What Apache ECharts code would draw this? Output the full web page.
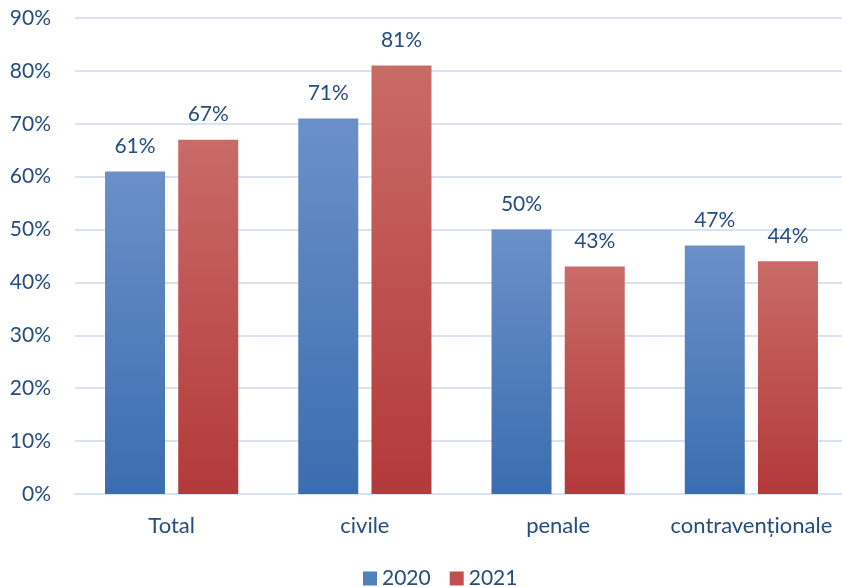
<!DOCTYPE html>
<html>
<head>
<meta charset="utf-8">
<script src="https://cdn.jsdelivr.net/npm/echarts@6/dist/echarts.min.js"></script>
<style>html,body{margin:0;padding:0;background:#fff}#c{width:842px;height:587px}</style>
</head>
<body>
<div id="c"></div>
<script>
const categories = ['Total', 'civile', 'penale', 'contravenționale'];
const seriesNames = ['2020', '2021'];
const values2020 = [61, 71, 50, 47];
const values2021 = [67, 81, 43, 44];
const yTicks = [0, 10, 20, 30, 40, 50, 60, 70, 80, 90];

const txt = '#264D7F';
const font = 'Lato';
function grad(top, bottom) {
  return new echarts.graphic.LinearGradient(0, 0, 0, 1, [
    {offset: 0, color: top}, {offset: 1, color: bottom}
  ]);
}
const chart = echarts.init(document.getElementById('c'));
chart.setOption({
  animation: false,
  textStyle: {fontFamily: font},
  grid: {left: 75, right: -6, top: 18, bottom: 93, containLabel: false, outerBoundsMode: 'none'},
  legend: {
    bottom: -7, left: 358, itemWidth: 14, itemHeight: 14, itemGap: 19,
    textStyle: {color: txt, fontSize: 21, fontFamily: font},
    data: seriesNames.map((n, i) => ({name: n, icon: 'rect', itemStyle: {color: i ? '#C0504D' : '#4F81BD'}}))
  },
  xAxis: {
    type: 'category', data: categories,
    axisLine: {show: true, lineStyle: {color: '#D9E2F3', width: 2}},
    axisTick: {show: false},
    axisLabel: {color: txt, fontSize: 22, margin: 21, fontFamily: font, interval: 0}
  },
  yAxis: {
    type: 'value', min: yTicks[0], max: yTicks[yTicks.length - 1], interval: 10,
    axisLabel: {color: txt, fontSize: 21, margin: 24, formatter: '{value}%', fontFamily: font},
    splitLine: {lineStyle: {color: '#D9E2F3', width: 2}},
    axisLine: {show: false}, axisTick: {show: false}
  },
  series: [
    {
      name: seriesNames[0], type: 'bar', data: values2020, barWidth: 60, barGap: '22%',
      itemStyle: {color: grad('#6B90C8', '#3A6DB0')},
      label: {show: true, position: 'top', distance: 15, formatter: '{c}%', color: txt, fontSize: 21, fontFamily: font}
    },
    {
      name: seriesNames[1], type: 'bar', data: values2021, barWidth: 60, barGap: '22%',
      itemStyle: {color: grad('#C96B67', '#B3393A')},
      label: {show: true, position: 'top', distance: 15, formatter: '{c}%', color: txt, fontSize: 21, fontFamily: font}
    }
  ]
});
</script>
</body>
</html>
